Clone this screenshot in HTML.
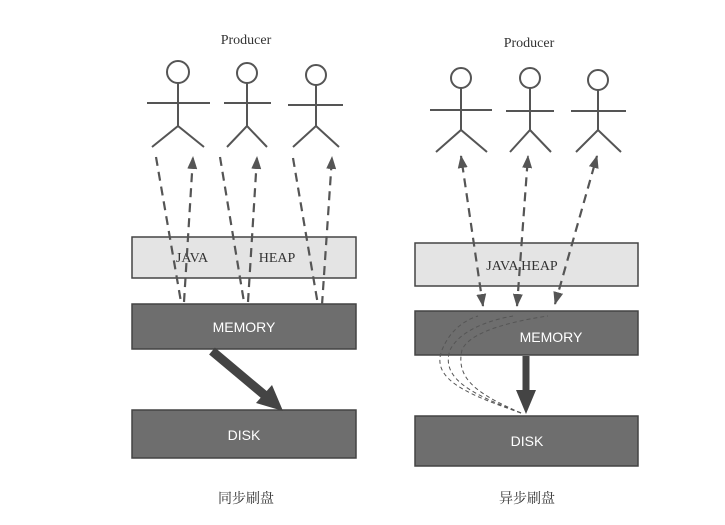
<!DOCTYPE html>
<html><head><meta charset="utf-8"><style>
body{margin:0;background:#fff}
svg{display:block}
text{font-family:"Liberation Serif","Noto Serif CJK SC",serif;fill:#333}
.s{font-family:"Liberation Sans",sans-serif;fill:#fff;font-size:14px}
</style></head><body>
<svg width="725" height="525" viewBox="0 0 725 525">
<defs>
<marker id="a" markerWidth="13" markerHeight="10" refX="12" refY="5" orient="auto-start-reverse" markerUnits="userSpaceOnUse" viewBox="0 0 13 10"><path d="M0,0 L13,5 L0,10 Z" fill="#555"/></marker>
</defs>
<text x="246" y="44" font-size="14" text-anchor="middle">Producer</text>
<text x="529" y="47" font-size="14" text-anchor="middle">Producer</text>
<g stroke="#555" stroke-width="2" fill="none">
<circle cx="178" cy="72" r="11"/><path d="M178,83V126M147,103H210M152,147L178,126L204,147"/>
<circle cx="247" cy="73" r="10"/><path d="M247,83V126M224,103H271M227,147L247,126L267,147"/>
<circle cx="316" cy="75" r="10"/><path d="M316,85V126M288,105H343M293,147L316,126L339,147"/>
<circle cx="461" cy="78" r="10"/><path d="M461,88V130M430,110H492M436,152L461,130L487,152"/>
<circle cx="530" cy="78" r="10"/><path d="M530,88V130M506,111H554M510,152L530,130L551,152"/>
<circle cx="598" cy="80" r="10"/><path d="M598,90V130M571,111H626M576,152L598,130L621,152"/>
</g>
<g stroke="#444" stroke-width="1.5">
<rect x="132" y="237" width="224" height="41" fill="#e4e4e4"/>
<rect x="132" y="304" width="224" height="45" fill="#6e6e6e"/>
<rect x="132" y="410" width="224" height="48" fill="#6e6e6e"/>
<rect x="415" y="243" width="223" height="43" fill="#e4e4e4"/>
<rect x="415" y="311" width="223" height="44" fill="#6e6e6e"/>
<rect x="415" y="416" width="223" height="50" fill="#6e6e6e"/>
</g>
<text x="192" y="262" font-size="14" text-anchor="middle">JAVA</text>
<text x="277" y="262" font-size="14" text-anchor="middle">HEAP</text>
<text x="522" y="270" font-size="14" text-anchor="middle">JAVA HEAP</text>
<text class="s" x="244" y="332" text-anchor="middle">MEMORY</text>
<text class="s" x="244" y="440" text-anchor="middle">DISK</text>
<text class="s" x="551" y="342" text-anchor="middle">MEMORY</text>
<text class="s" x="527" y="446" text-anchor="middle">DISK</text>
<g stroke="#555" stroke-width="2.2" fill="none" stroke-dasharray="9,6">
<path d="M156,157L181,302"/><path d="M184,302L193,157" marker-end="url(#a)"/>
<path d="M220,157L244,302"/><path d="M248,302L257,157" marker-end="url(#a)"/>
<path d="M293,158L318,305"/><path d="M322,305L332,157" marker-end="url(#a)"/>
<path d="M483,306L461,156" marker-end="url(#a)" marker-start="url(#a)"/>
<path d="M517,306L528,156" marker-end="url(#a)" marker-start="url(#a)"/>
<path d="M555,304L597,156" marker-end="url(#a)" marker-start="url(#a)"/>
</g>
<g stroke="#555" stroke-width="1" fill="none" stroke-dasharray="4,3">
<path d="M521,413C470,395 430,380 442,350C450,330 465,320 478,316"/>
<path d="M521,413C475,395 440,380 450,350C460,330 490,320 513,316"/>
<path d="M521,413C480,395 455,380 462,350C470,330 520,320 548,316"/>
</g>
<line x1="212" y1="351" x2="268" y2="398" stroke="#444" stroke-width="9"/>
<path d="M283,411L256,403L272,385Z" fill="#444"/>
<line x1="526" y1="356" x2="526" y2="392" stroke="#444" stroke-width="7"/>
<path d="M516,390L536,390L526,414Z" fill="#444"/>
<text x="246" y="503" font-size="14" text-anchor="middle">同步刷盘</text>
<text x="527" y="503" font-size="14" text-anchor="middle">异步刷盘</text>
</svg>
</body></html>
